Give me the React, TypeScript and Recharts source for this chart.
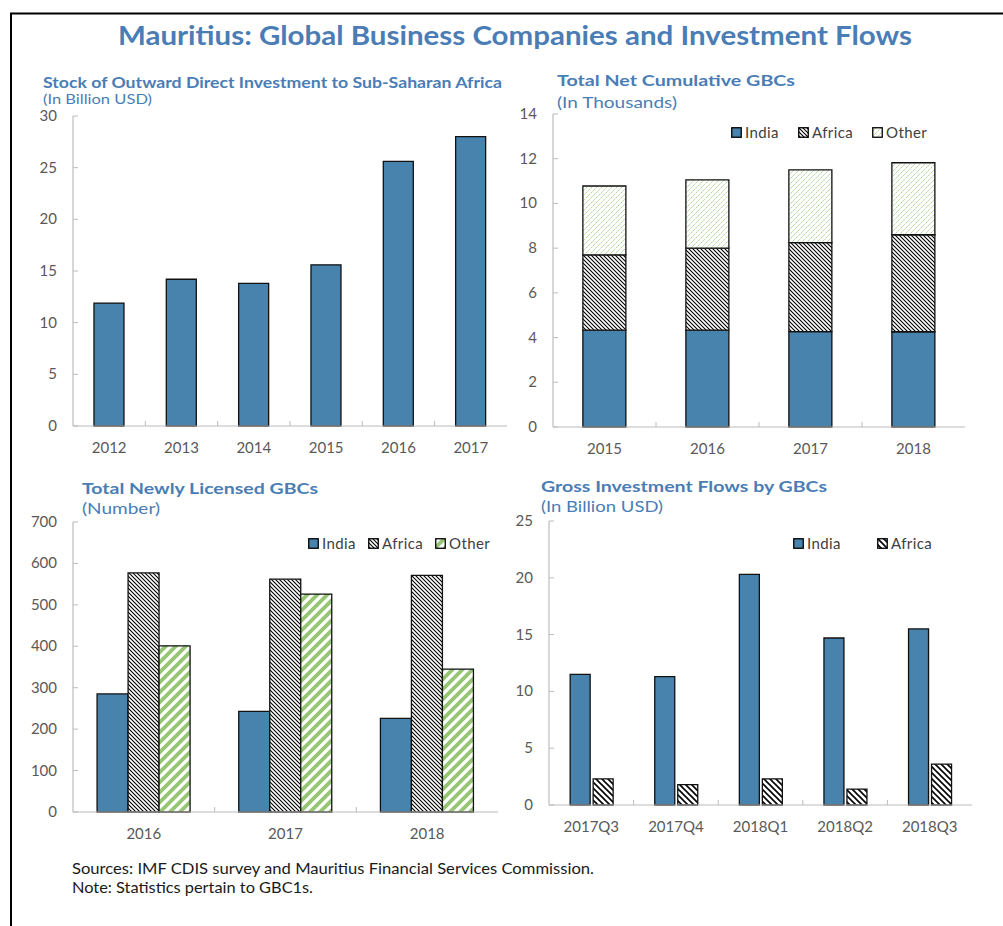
import React from 'react';
import { BarChart, Bar, XAxis, YAxis, Legend } from 'recharts';

// ---------- data ----------
const stockYears = ['2012', '2013', '2014', '2015', '2016', '2017'];
const stockValues = [11.9, 14.2, 13.8, 15.6, 25.6, 28.0];
const stockTicks = [0, 5, 10, 15, 20, 25, 30];

const cumYears = ['2015', '2016', '2017', '2018'];
const cumIndia = [4.33, 4.33, 4.27, 4.26];
const cumAfrica = [3.37, 3.67, 3.98, 4.34];
const cumOther = [3.08, 3.05, 3.25, 3.22];
const cumTicks = [0, 2, 4, 6, 8, 10, 12, 14];

const newYears = ['2016', '2017', '2018'];
const newIndia = [285, 243, 226];
const newAfrica = [577, 562, 571];
const newOther = [401, 526, 345];
const newTicks = [0, 100, 200, 300, 400, 500, 600, 700];

const flowQuarters = ['2017Q3', '2017Q4', '2018Q1', '2018Q2', '2018Q3'];
const flowIndia = [11.5, 11.3, 20.3, 14.7, 15.5];
const flowAfrica = [2.3, 1.8, 2.3, 1.4, 3.6];
const flowTicks = [0, 5, 10, 15, 20, 25];

const stockData = stockYears.map((year, i) => ({ year, value: stockValues[i] }));
const cumData = cumYears.map((year, i) => ({ year, India: cumIndia[i], Africa: cumAfrica[i], Other: cumOther[i] }));
const newData = newYears.map((year, i) => ({ year, India: newIndia[i], Africa: newAfrica[i], Other: newOther[i] }));
const flowData = flowQuarters.map((q, i) => ({ q, India: flowIndia[i], Africa: flowAfrica[i] }));

// ---------- styles ----------
const FONT = 'Lato, "Open Sans", sans-serif';
const BLUE_TITLE = '#4a7db5';
const INDIA = '#4783ad';
const TICK = '#595959';
const FRAME = '#bcbcbc';
const GREEN = '#96c673';
const GREEN_LIGHT = '#a3cd86';

function makeXTick(n: number, plotWidth: number) {
  return (props: any) => {
    const { x, y, payload, index } = props;
    const band = plotWidth / n;
    return (
      <g>
        {index > 0 && <line x1={x - band / 2} x2={x - band / 2} y1={y} y2={y - 5} stroke={FRAME} strokeWidth={1} />}
        <text x={x} y={y + 27} textAnchor="middle" fill={TICK} fontSize={15} fontFamily={FONT}>
          {payload.value}
        </text>
      </g>
    );
  };
}

const YTick = (props: any) => {
  const { x, y, payload } = props;
  return (
    <g>
      <line x1={x} x2={x + 5} y1={y} y2={y} stroke={FRAME} strokeWidth={1} />
      <text x={x - 16} y={y + 5} textAnchor="end" fill={TICK} fontSize={15} fontFamily={FONT}>
        {payload.value}
      </text>
    </g>
  );
};

type LegendItem = { label: string; fill: string };

function makeLegend(items: LegendItem[], gap: number) {
  return () => (
    <div style={{ display: 'flex', alignItems: 'center', fontFamily: FONT, fontSize: 15, letterSpacing: 0.4, color: '#404040', lineHeight: '18px', whiteSpace: 'nowrap' }}>
      {items.map((it, i) => (
        <div key={it.label} style={{ display: 'flex', alignItems: 'center', marginRight: i < items.length - 1 ? gap : 0 }}>
          <svg width={11} height={11} style={{ display: 'block' }}>
            <rect x={0.75} y={0.75} width={9.5} height={9.5} fill={it.fill} stroke="#000" strokeWidth={1.3} />
          </svg>
          <span style={{ marginLeft: 3 }}>{it.label}</span>
        </div>
      ))}
    </div>
  );
}

const frameAxisProps = {
  tick: false as const,
  tickLine: false as const,
  axisLine: { stroke: FRAME, strokeWidth: 1.2 },
};

export default function App() {
  const barStroke = { stroke: '#111', strokeWidth: 1.3 };
  return (
    <div style={{ position: 'absolute', left: 0, top: 0, width: 1003, height: 926, overflow: 'hidden', background: '#fff' }}>
      <svg width={1003} height={926} style={{ position: 'absolute', left: 0, top: 0 }}>
        <defs>
          <pattern id="hatchAfrica" patternUnits="userSpaceOnUse" width={4} height={4}>
            <rect width={4} height={4} fill="#fff" />
            <path d="M-1,-1 L5,5 M-1,3 L1,5 M3,-1 L5,1" stroke="#000" strokeWidth={1.1} />
          </pattern>
          <pattern id="hatchAfricaWide" patternUnits="userSpaceOnUse" width={6} height={6}>
            <rect width={6} height={6} fill="#fff" />
            <path d="M-1,-1 L7,7 M-1,5 L1,7 M5,-1 L7,1" stroke="#000" strokeWidth={1.6} />
          </pattern>
          <pattern id="hatchGreenThin" patternUnits="userSpaceOnUse" width={5} height={5}>
            <rect width={5} height={5} fill="#fff" />
            <path d="M-1,6 L6,-1 M-1,1 L1,-1 M4,6 L6,4" stroke={GREEN_LIGHT} strokeWidth={1} strokeDasharray="2,1" />
          </pattern>
          <pattern id="hatchGreenThick" patternUnits="userSpaceOnUse" width={10} height={10}>
            <rect width={10} height={10} fill="#fff" />
            <path d="M-2,12 L12,-2 M-2,2 L2,-2 M8,12 L12,8" stroke={GREEN} strokeWidth={3.8} />
          </pattern>
        </defs>
        {/* outer frame */}
        <path d="M11,940 L11,13.5 L1010,13.5" fill="none" stroke="#000" strokeWidth={2} />
        {/* titles */}
        <text x={118} y={45} fontFamily={FONT} fontWeight={700} fontSize={26} fill={BLUE_TITLE} textLength={794} lengthAdjust="spacingAndGlyphs">
          Mauritius: Global Business Companies and Investment Flows
        </text>
        <text x={43} y={88} fontFamily={FONT} fontWeight={700} fontSize={15} fill={BLUE_TITLE} textLength={459} lengthAdjust="spacingAndGlyphs">
          Stock of Outward Direct Investment to Sub-Saharan Africa
        </text>
        <text x={43} y={104} fontFamily={FONT} fontSize={14} fill={BLUE_TITLE} textLength={109} lengthAdjust="spacingAndGlyphs">
          (In Billion USD)
        </text>
        <text x={557} y={86} fontFamily={FONT} fontWeight={700} fontSize={15} fill={BLUE_TITLE} textLength={238} lengthAdjust="spacingAndGlyphs">
          Total Net Cumulative GBCs
        </text>
        <text x={557} y={108} fontFamily={FONT} fontSize={16} fill={BLUE_TITLE} textLength={120} lengthAdjust="spacingAndGlyphs">
          (In Thousands)
        </text>
        <text x={82} y={494} fontFamily={FONT} fontWeight={700} fontSize={15} fill={BLUE_TITLE} textLength={236} lengthAdjust="spacingAndGlyphs">
          Total Newly Licensed GBCs
        </text>
        <text x={82} y={514} fontFamily={FONT} fontSize={16} fill={BLUE_TITLE} textLength={78} lengthAdjust="spacingAndGlyphs">
          (Number)
        </text>
        <text x={541} y={492} fontFamily={FONT} fontWeight={700} fontSize={15} fill={BLUE_TITLE} textLength={286} lengthAdjust="spacingAndGlyphs">
          Gross Investment Flows by GBCs
        </text>
        <text x={541} y={512} fontFamily={FONT} fontSize={16} fill={BLUE_TITLE} textLength={122} lengthAdjust="spacingAndGlyphs">
          (In Billion USD)
        </text>
        <text x={72} y={874} fontFamily={FONT} fontSize={15} fill="#1a1a1a" textLength={522} lengthAdjust="spacingAndGlyphs">
          Sources: IMF CDIS survey and Mauritius Financial Services Commission.
        </text>
        <text x={72} y={893} fontFamily={FONT} fontSize={15} fill="#1a1a1a" textLength={241} lengthAdjust="spacingAndGlyphs">
          Note: Statistics pertain to GBC1s.
        </text>
      </svg>

      {/* Panel A */}
      <div style={{ position: 'absolute', left: 20, top: 106 }}>
        <BarChart width={500} height={355} data={stockData} margin={{ top: 10, right: 13, left: 0, bottom: 0 }} barCategoryGap="29%">
          <XAxis dataKey="year" height={35} tickSize={0} tickMargin={0} tickLine={false} axisLine={{ stroke: FRAME, strokeWidth: 1.2 }} tick={makeXTick(stockYears.length, 434)} interval={0} />
          <XAxis xAxisId="top" orientation="top" dataKey="year" height={0} {...frameAxisProps} />
          <YAxis width={53} type="number" domain={[0, 30]} ticks={stockTicks} tickSize={0} tickMargin={0} tickLine={false} axisLine={{ stroke: FRAME, strokeWidth: 1.2 }} tick={YTick} interval={0} />
          <YAxis yAxisId="right" orientation="right" type="number" domain={[0, 1]} width={0} {...frameAxisProps} />
          <Bar dataKey="value" fill={INDIA} {...barStroke} isAnimationActive={false} />
        </BarChart>
      </div>

      {/* Panel B */}
      <div style={{ position: 'absolute', left: 500, top: 104 }}>
        <BarChart width={478} height={358} data={cumData} margin={{ top: 10, right: 13, left: 0, bottom: 0 }} barCategoryGap="29%">
          <XAxis dataKey="year" height={35} tickSize={0} tickMargin={0} tickLine={false} axisLine={{ stroke: FRAME, strokeWidth: 1.2 }} tick={makeXTick(cumYears.length, 412)} interval={0} />
          <XAxis xAxisId="top" orientation="top" dataKey="year" height={0} {...frameAxisProps} />
          <YAxis width={53} type="number" domain={[0, 14]} ticks={cumTicks} tickSize={0} tickMargin={0} tickLine={false} axisLine={{ stroke: FRAME, strokeWidth: 1.2 }} tick={YTick} interval={0} />
          <YAxis yAxisId="right" orientation="right" type="number" domain={[0, 1]} width={0} {...frameAxisProps} />
          <Legend
            layout="horizontal"
            verticalAlign="middle"
            align="center"
            wrapperStyle={{ top: 19, left: 231, width: 'auto' }}
            content={makeLegend(
              [
                { label: 'India', fill: INDIA },
                { label: 'Africa', fill: 'url(#hatchAfrica)' },
                { label: 'Other', fill: 'url(#hatchGreenThin)' },
              ],
              19,
            )}
          />
          <Bar dataKey="India" stackId="s" fill={INDIA} {...barStroke} isAnimationActive={false} />
          <Bar dataKey="Africa" stackId="s" fill="url(#hatchAfrica)" {...barStroke} isAnimationActive={false} />
          <Bar dataKey="Other" stackId="s" fill="url(#hatchGreenThin)" {...barStroke} isAnimationActive={false} />
        </BarChart>
      </div>

      {/* Panel C */}
      <div style={{ position: 'absolute', left: 20, top: 512 }}>
        <BarChart width={491} height={335} data={newData} margin={{ top: 10, right: 13, left: 0, bottom: 0 }} barCategoryGap="17%" barGap={0}>
          <XAxis dataKey="year" height={35} tickSize={0} tickMargin={0} tickLine={false} axisLine={{ stroke: FRAME, strokeWidth: 1.2 }} tick={makeXTick(newYears.length, 425)} interval={0} />
          <XAxis xAxisId="top" orientation="top" dataKey="year" height={0} {...frameAxisProps} />
          <YAxis width={53} type="number" domain={[0, 700]} ticks={newTicks} tickSize={0} tickMargin={0} tickLine={false} axisLine={{ stroke: FRAME, strokeWidth: 1.2 }} tick={YTick} interval={0} />
          <YAxis yAxisId="right" orientation="right" type="number" domain={[0, 1]} width={0} {...frameAxisProps} />
          <Legend
            layout="horizontal"
            verticalAlign="middle"
            align="center"
            wrapperStyle={{ top: 22, left: 288, width: 'auto' }}
            content={makeLegend(
              [
                { label: 'India', fill: INDIA },
                { label: 'Africa', fill: 'url(#hatchAfrica)' },
                { label: 'Other', fill: 'url(#hatchGreenThick)' },
              ],
              12,
            )}
          />
          <Bar dataKey="India" fill={INDIA} {...barStroke} isAnimationActive={false} />
          <Bar dataKey="Africa" fill="url(#hatchAfrica)" {...barStroke} isAnimationActive={false} />
          <Bar dataKey="Other" fill="url(#hatchGreenThick)" {...barStroke} isAnimationActive={false} />
        </BarChart>
      </div>

      {/* Panel D */}
      <div style={{ position: 'absolute', left: 496, top: 511 }}>
        <BarChart width={489} height={329} data={flowData} margin={{ top: 10, right: 13, left: 0, bottom: 0 }} barCategoryGap="25%" barGap={3}>
          <XAxis dataKey="q" height={35} tickSize={0} tickMargin={0} tickLine={false} axisLine={{ stroke: FRAME, strokeWidth: 1.2 }} tick={makeXTick(flowQuarters.length, 423)} interval={0} />
          <XAxis xAxisId="top" orientation="top" dataKey="q" height={0} {...frameAxisProps} />
          <YAxis width={53} type="number" domain={[0, 25]} ticks={flowTicks} tickSize={0} tickMargin={0} tickLine={false} axisLine={{ stroke: FRAME, strokeWidth: 1.2 }} tick={YTick} interval={0} />
          <YAxis yAxisId="right" orientation="right" type="number" domain={[0, 1]} width={0} {...frameAxisProps} />
          <Legend
            layout="horizontal"
            verticalAlign="middle"
            align="center"
            wrapperStyle={{ top: 23, left: 297, width: 'auto' }}
            content={makeLegend(
              [
                { label: 'India', fill: INDIA },
                { label: 'Africa', fill: 'url(#hatchAfricaWide)' },
              ],
              36,
            )}
          />
          <Bar dataKey="India" fill={INDIA} {...barStroke} isAnimationActive={false} />
          <Bar dataKey="Africa" fill="url(#hatchAfricaWide)" {...barStroke} isAnimationActive={false} />
        </BarChart>
      </div>
    </div>
  );
}
